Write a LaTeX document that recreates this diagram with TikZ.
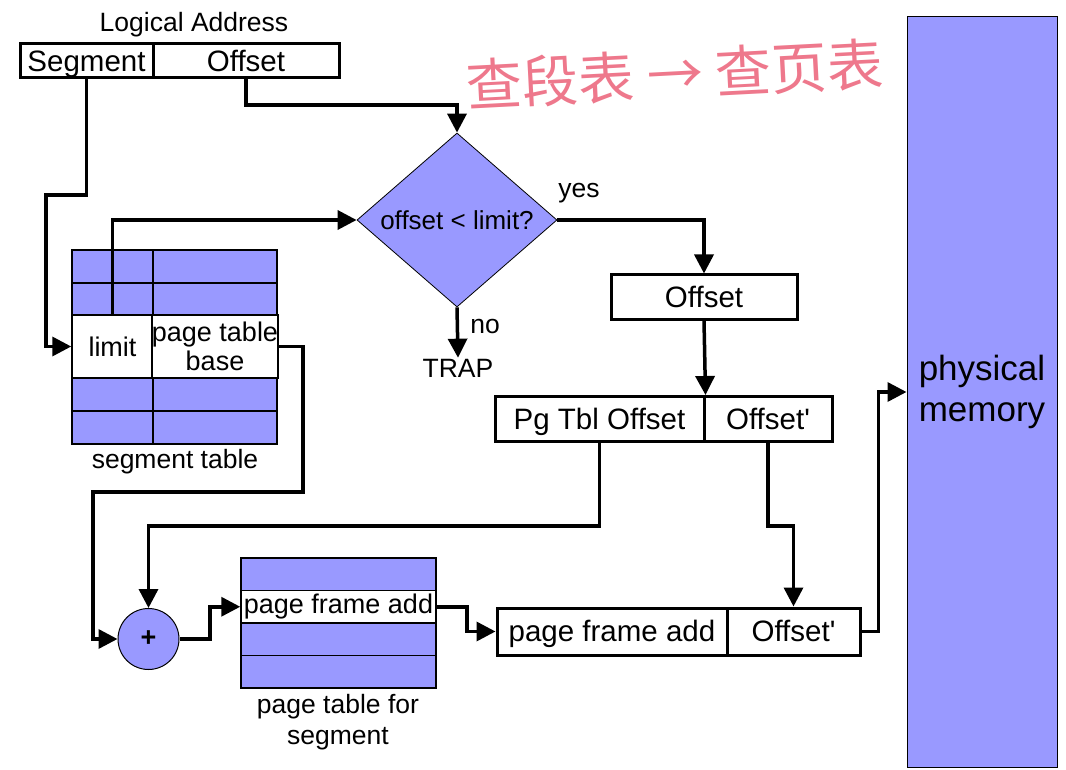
\documentclass[tikz,border=0pt]{standalone}
\usepackage{fontspec}
\setmainfont{Liberation Sans}
\newfontfamily\cjk{Noto Sans CJK SC}
\usetikzlibrary{arrows.meta,shapes.geometric}
\definecolor{pblue}{RGB}{153,153,255}
\definecolor{inkred}{RGB}{238,120,140}
\begin{document}
\begin{tikzpicture}[x=1pt,y=-1pt,
  box/.style={draw, line width=3pt, inner sep=0pt, fill=white, text height=25pt, text depth=4.5pt, font=\fontsize{29.5}{33}\selectfont},
  cell/.style={draw, line width=1.5pt, fill=pblue, inner sep=0pt, font=\fontsize{27}{30}\selectfont},
  wcell/.style={cell, fill=white},
  lbl/.style={font=\fontsize{26.5}{31}\selectfont, inner sep=1pt, align=center},
  conn/.style={line width=3.5pt, -{Triangle[length=19pt,width=19pt]}}
]
\useasboundingbox[fill=white] (0,0) rectangle (1066,770);

% handwritten note
\node[text=inkred, font=\cjk\fontsize{56}{60}\selectfont, rotate=3] (note) at (675,74) {查段表 → 查页表};

% logical address
\node[lbl] (la) at (194,25) {Logical Address};
\node[box, minimum width=133pt, minimum height=34pt] (seg) at (86.5,61) {Segment};
\node[box, minimum width=186pt, minimum height=34pt] (off) at (246,61) {Offset};

% segment table
\node[cell, minimum width=81pt, minimum height=33pt] (s11) at (112.5,266.5) {};
\node[cell, minimum width=124pt, minimum height=33pt] (s12) at (215,266.5) {};
\node[cell, minimum width=81pt, minimum height=32pt] (s21) at (112.5,299) {};
\node[cell, minimum width=124pt, minimum height=32pt] (s22) at (215,299) {};
\node[wcell, minimum width=81pt, minimum height=63pt] (limit) at (112.5,346.5) {limit};
\node[wcell, minimum width=124pt, minimum height=63pt, align=center] (ptb) at (215,346.5) {page table\\[-1pt]base};
\node[cell, minimum width=81pt, minimum height=33pt] (s41) at (112.5,394.5) {};
\node[cell, minimum width=124pt, minimum height=33pt] (s42) at (215,394.5) {};
\node[cell, minimum width=81pt, minimum height=33pt] (s51) at (112.5,427.5) {};
\node[cell, minimum width=124pt, minimum height=33pt] (s52) at (215,427.5) {};
\node[lbl] (stl) at (175,462) {segment table};

% diamond
\node[diamond, draw, fill=pblue, line width=0.8pt, shape aspect=1.15, minimum width=200pt, minimum height=174pt, inner sep=0pt, font=\fontsize{26}{30}\selectfont] (dia) at (457,220) {offset < limit?};
\node[lbl] (yes) at (579,193) {yes};
\node[lbl] (no) at (485,326) {no};
\node[lbl] (trap) at (458,368) {TRAP};

% offset boxes
\node[box, minimum width=186pt, minimum height=44pt] (offb) at (704,297) {Offset};
\node[box, minimum width=209pt, minimum height=45pt] (pgt) at (599.5,419) {Pg Tbl Offset};
\node[box, minimum width=128pt, minimum height=45pt] (offp) at (768,419) {Offset\textquotesingle};

% adder
\node[circle, draw, fill=pblue, line width=1pt, minimum size=61pt, inner sep=0pt, font=\bfseries\fontsize{27}{30}\selectfont] (plus) at (148.5,639) {+};

% page table
\node[cell, minimum width=195pt, minimum height=32.5pt] (pt1) at (338.5,574.25) {};
\node[wcell, minimum width=195pt, minimum height=32.5pt] (pfa2) at (338.5,606.75) {page frame add};
\node[cell, minimum width=195pt, minimum height=32.5pt] (pt3) at (338.5,639.25) {};
\node[cell, minimum width=195pt, minimum height=32.5pt] (pt4) at (338.5,671.75) {};
\node[lbl] (ptl) at (338,722) {page table for\\segment};

% physical address
\node[box, minimum width=230pt, minimum height=47pt] (pfa) at (612,631.5) {page frame add};
\node[box, minimum width=133pt, minimum height=47pt] (ob) at (793.5,631.5) {Offset\textquotesingle};

% physical memory
\node[draw, fill=pblue, line width=1pt, minimum width=150pt, minimum height=750pt, align=center, font=\fontsize{35}{41}\selectfont] (mem) at (982,392) {physical\\memory};

% connectors
\draw[conn] (seg.south) |- (46,195) |- (limit.west);
\draw[conn] (off.south) |- (457,105) -- (dia.north);
\draw[conn] (limit.north) |- (dia.west);
\draw[conn] (dia.east) -| (offb.north);
\draw[conn] (dia.south) -- (trap.north);
\draw[conn] (offb.south) -- (pgt.north east);
\draw[conn] (pgt.south) -- ++(0,83) -| (plus.north);
\draw[conn] (offp.south) -- ++(0,83) -| (ob.north);
\draw[conn] (ob.east) -- ++(17,0) |- (mem.west);
\draw[conn] (ptb.east) -- (303,346.5) -- (303,492) -- (93,492) |- (plus.west);
\draw[conn] (plus.east) -- (210,639) |- (pfa2.west);
\draw[conn] (pfa2.east) -- (467,606.75) |- (pfa.west);
\end{tikzpicture}
\end{document}
